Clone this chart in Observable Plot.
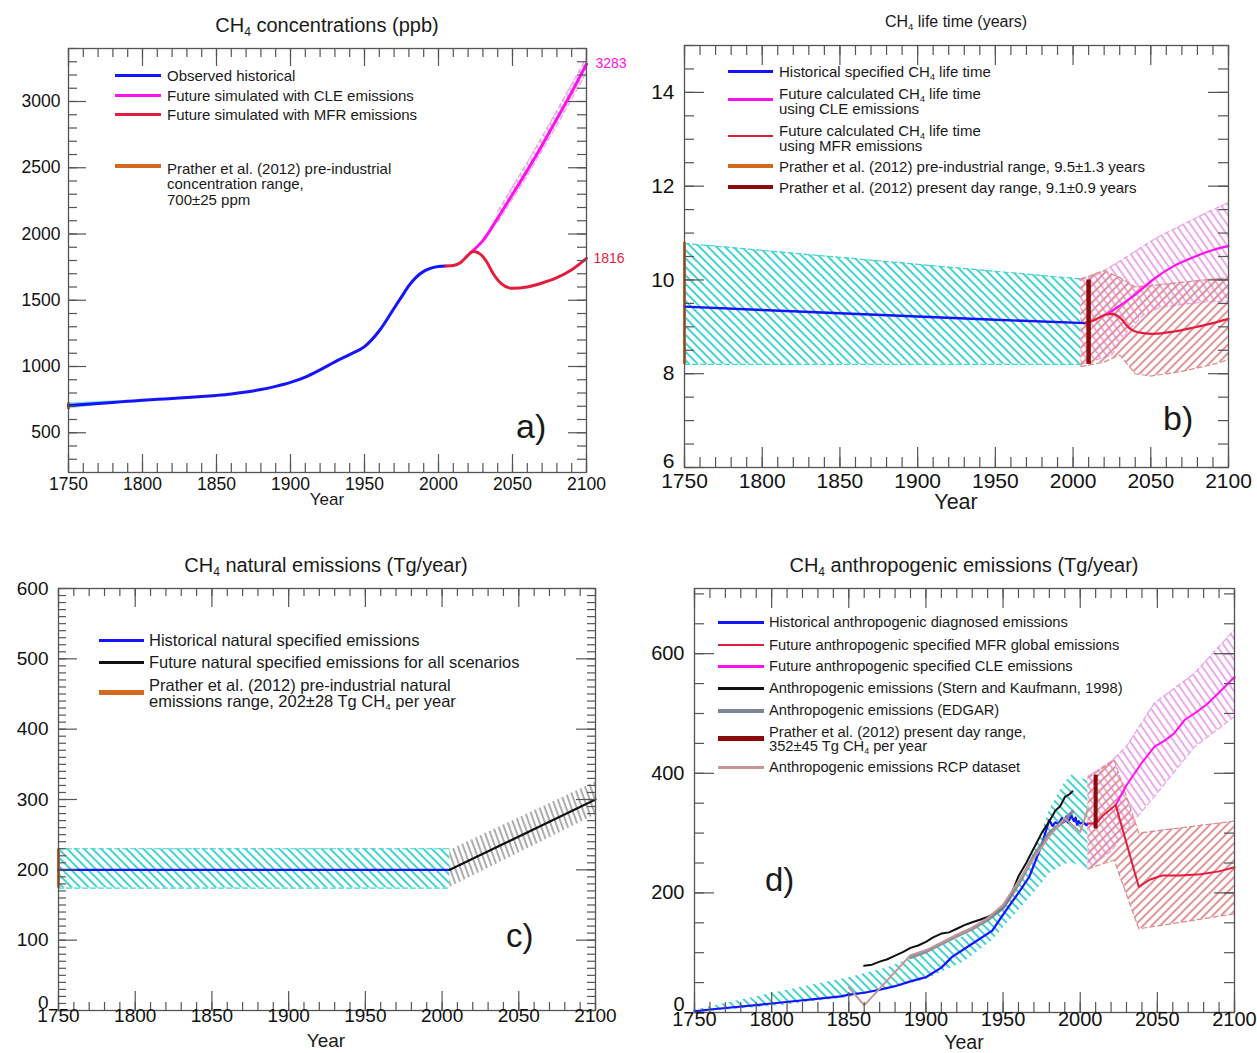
<!DOCTYPE html>
<html><head><meta charset="utf-8">
<script src="https://cdn.jsdelivr.net/npm/d3@7"></script>
<script src="https://cdn.jsdelivr.net/npm/@observablehq/plot@0.6"></script>
<style>
body{margin:0;background:#fff;font-family:"Liberation Sans",Arial,Helvetica,sans-serif;}
#root{position:relative;width:1257px;height:1053px;overflow:hidden;background:#fff;}
.t{position:absolute;white-space:nowrap;color:#1a1a1a;line-height:1.15;}
.t sub{font-size:0.6em;vertical-align:-0.3em;line-height:0;}
</style></head><body>
<svg width="0" height="0" style="position:absolute"><defs>
<pattern id="hCyan" patternUnits="userSpaceOnUse" width="6" height="6" patternTransform="rotate(-45)"><line x1="2" y1="-1" x2="2" y2="7" stroke="#45d3cf" stroke-width="2"/></pattern>
<pattern id="hPink" patternUnits="userSpaceOnUse" width="6" height="6" patternTransform="rotate(-35)"><line x1="2" y1="-1" x2="2" y2="7" stroke="#e9a3ea" stroke-width="1.8"/></pattern>
<pattern id="hRed" patternUnits="userSpaceOnUse" width="6" height="6" patternTransform="rotate(45)"><line x1="2" y1="-1" x2="2" y2="7" stroke="#de8a8c" stroke-width="1.8"/></pattern>
<pattern id="hGray" patternUnits="userSpaceOnUse" width="5" height="5" patternTransform="rotate(-20)"><line x1="2" y1="-1" x2="2" y2="6" stroke="#a4a4a4" stroke-width="1.8"/></pattern>
</defs></svg>
<div id="root"></div>
<script>
// ================= DATA =================
// Panel a: CH4 concentrations (ppb)
const aHistYears = [1750,1760,1770,1780,1790,1800,1810,1820,1830,1840,1850,1860,1870,1880,1890,1900,1910,1920,1930,1940,1950,1960,1970,1975,1980,1985,1990,1995,2000,2005];
const aHistConc  = [705,713,721,729,737,745,752,759,766,773,782,793,808,826,850,880,920,975,1035,1090,1150,1270,1440,1525,1610,1675,1718,1743,1755,1758];
const aMfrYears  = [2005,2010,2015,2020,2023,2027,2032,2037,2042,2050,2060,2070,2080,2090,2100];
const aMfrConc   = [1758,1762,1785,1840,1868,1858,1800,1700,1630,1590,1600,1630,1670,1730,1816];
const aCleYears  = [2022,2030,2040,2050,2060,2070,2080,2090,2100];
const aCleConc   = [1862,1950,2120,2300,2480,2670,2870,3070,3283];
const aCleBandYears = [2040,2060,2080,2100];
const aCleBandLo    = [2090,2440,2820,3220];
const aCleBandHi    = [2170,2540,2930,3330];
const aHistBandYears = [1750,1770,1790];
const aHistBandLo    = [680,705,730];
const aHistBandHi    = [725,735,745];
const aPreYear = [1750], aPreLo = [675], aPreHi = [725];

// Panel b: CH4 life time (years)
const bHistYears = [1750,1800,1850,1900,1950,2008];
const bHistLife  = [9.43,9.36,9.29,9.22,9.15,9.08];
const bHistBandYears = [1750,2005];
const bHistBandLo    = [8.2,8.2];
const bHistBandHi    = [10.78,10.02];
const bMfrYears = [2008,2012,2017,2022,2026,2030,2036,2044,2052,2065,2077,2090,2100];
const bMfrLife  = [9.09,9.12,9.2,9.27,9.27,9.2,8.98,8.87,8.85,8.9,8.98,9.08,9.17];
const bCleYears = [2022,2030,2039,2052,2065,2077,2090,2100];
const bCleLife  = [9.27,9.45,9.66,10.02,10.3,10.48,10.64,10.72];
const bCleBandYears = [2005,2015,2025,2035,2045,2055,2070,2085,2100];
const bCleBandHi    = [10.0,10.1,10.3,10.5,10.72,10.92,11.17,11.42,11.65];
const bCleBandLo    = [8.2,8.3,8.4,8.9,9.25,9.4,9.48,9.53,9.55];
const bMfrBandYears = [2005,2020,2030,2040,2050,2070,2090,2100];
const bMfrBandHi    = [10.02,10.2,10.05,9.85,9.88,9.95,10.02,10.05];
const bMfrBandLo    = [8.15,8.25,8.4,8.0,7.95,8.05,8.2,8.3];
const bPreYear = [1750], bPreLo = [8.2], bPreHi = [10.8];
const bNowYear = [2010], bNowLo = [8.2], bNowHi = [10.0];

// Panel c: CH4 natural emissions (Tg/year)
const cHistYears = [1750,2005];
const cHistEmis  = [200,200];
const cHistBandLo = [174,174], cHistBandHi = [230,230];
const cFutYears = [2005,2100];
const cFutEmis  = [200,300];
const cFutBandLo = [175,278], cFutBandHi = [228,325];
const cPreYear = [1750], cPreLo = [174], cPreHi = [230];

// Panel d: CH4 anthropogenic emissions (Tg/year)
const dHistYears = [1750,1760,1800,1845,1850,1860,1870,1880,1890,1897,1900,1910,1917,1930,1943,1949,1955,1960,1967,1975,1980,1982,1984,1986,1988,1989,1990,1991,1992,1993,1994,1995,1996,1997,1998,1999,2000,2002,2004,2005];
const dHistEmis  = [2,5,15,27,30,33,38,44,52,57,59,75,93,115,137,160,182,200,227,280,322,312,318,315,325,318,320,328,318,322,332,325,320,326,314,320,316,318,313,316];
const dSternYears = [1860,1865,1870,1875,1880,1885,1890,1895,1900,1905,1910,1915,1920,1925,1930,1935,1940,1945,1950,1955,1960,1965,1970,1975,1980,1984,1987,1990,1993,1995];
const dSternEmis  = [78,80,85,89,95,101,108,112,118,126,132,134,140,146,151,155,160,166,175,195,228,250,275,300,320,338,345,360,365,370];
const dEdgarYears = [1890,1900,1910,1920,1930,1940,1950,1960,1970,1980,1990,1995];
const dEdgarEmis  = [92,102,115,128,140,155,175,215,262,300,322,336];
const dRcpYears = [1850,1860,1890,1900,1910,1920,1930,1940,1950,1960,1970,1980,1990,2000,2005];
const dRcpEmis  = [42,12,96,104,117,130,142,158,180,220,258,295,325,302,340];
const dMfrYears = [2005,2010,2015,2023,2038,2045,2053,2065,2078,2090,2100];
const dMfrEmis  = [316,316,330,347,210,222,229,229,231,236,243];
const dCleYears = [2023,2030,2040,2048,2055,2061,2068,2074,2082,2090,2100];
const dCleEmis  = [347,380,418,444,455,467,490,500,515,535,561];
const dHistBandYears = [1750,1800,1850,1875,1900,1925,1943,1962,1975,1980,1990,1995,2000,2005];
const dHistBandHi    = [4,32,58,75,100,128,160,216,300,338,385,398,392,388];
const dHistBandLo    = [0,10,25,38,55,85,120,176,215,232,248,250,245,240];
const dCleBandYears = [2005,2020,2030,2048,2074,2100];
const dCleBandHi    = [395,420,445,517,567,640];
const dCleBandLo    = [240,270,305,361,444,495];
const dMfrBandYears = [2005,2022,2038,2100];
const dMfrBandHi    = [392,422,300,320];
const dMfrBandLo    = [240,255,140,165];
const dNowYear = [2010], dNowLo = [307], dNowHi = [397];

// ================= HELPERS =================
const FONT = '"Liberation Sans", Arial, Helvetica, sans-serif';
const BLUE = "#1414ff", MAGENTA = "#ff10f0", CRIMSON = "#e41d3e", ORANGE = "#d2691e",
      DARKRED = "#8b0a0a", CYAN = "#45d3cf", PINK = "#e9a3ea", LRED = "#de8a8c", GRAYH = "#a4a4a4",
      EDGAR = "#7d8794", RCP = "#c49696";
const root = document.getElementById("root");

function rows(xs, cols) {
  return xs.map((x, i) => { const o = {x}; for (const k in cols) o[k] = cols[k][i]; return o; });
}
function boxTicks(iw, ih, xMaj, xMin, yMaj, yMin, lMaj, lMin) {
  const s = {stroke: "#555", strokeWidth: 1.2};
  return [
    Plot.tickX(xMin, {x: d => d, insetTop: ih - lMin, ...s}),
    Plot.tickX(xMin, {x: d => d, insetBottom: ih - lMin, ...s}),
    Plot.tickX(xMaj, {x: d => d, insetTop: ih - lMaj, ...s}),
    Plot.tickX(xMaj, {x: d => d, insetBottom: ih - lMaj, ...s}),
    Plot.tickY(yMin, {y: d => d, insetRight: iw - lMin, ...s}),
    Plot.tickY(yMin, {y: d => d, insetLeft: iw - lMin, ...s}),
    Plot.tickY(yMaj, {y: d => d, insetRight: iw - lMaj, ...s}),
    Plot.tickY(yMaj, {y: d => d, insetLeft: iw - lMaj, ...s})
  ];
}
function band(data, pat, edge) {
  const m = [Plot.areaY(data, {x: "x", y1: "lo", y2: "hi", fill: pat})];
  if (edge) {
    m.push(Plot.lineY(data, {x: "x", y: "lo", stroke: edge, strokeWidth: 1.2, strokeDasharray: "5,3"}));
    m.push(Plot.lineY(data, {x: "x", y: "hi", stroke: edge, strokeWidth: 1.2, strokeDasharray: "5,3"}));
  }
  return m;
}
function panel(p) {
  const yAxisMarks = p.lowDy
    ? [Plot.axisY({ticks: p.yMaj.slice(1), tickSize: 0, tickPadding: p.yPad, fontSize: p.fs, tickFormat: d => String(d), label: null}),
       Plot.axisY({ticks: p.yMaj.slice(0, 1), tickSize: 0, tickPadding: p.yPad, fontSize: p.fs, tickFormat: d => String(d), label: null, dy: p.lowDy})]
    : [Plot.axisY({ticks: p.yMaj, tickSize: 0, tickPadding: p.yPad, fontSize: p.fs, tickFormat: d => String(d), label: null})];
  const svg = Plot.plot({
    width: p.width, height: p.height,
    marginLeft: p.ml, marginRight: p.mr, marginTop: p.mt, marginBottom: p.mb,
    x: {domain: [1750, 2100]}, y: {domain: p.yDomain},
    style: {fontFamily: FONT, background: "transparent", color: "#111", overflow: "visible"},
    marks: [
      ...p.marks,
      Plot.frame({stroke: "#555", strokeWidth: 1.3}),
      ...boxTicks(p.width - p.ml - p.mr, p.height - p.mt - p.mb, p.xMaj, p.xMin, p.yMaj, p.yMin, p.lMaj, p.lMin),
      Plot.axisX({ticks: p.xMaj, tickSize: 0, tickPadding: p.xPad, fontSize: p.fs, tickFormat: d => String(d), label: null}),
      ...yAxisMarks
    ]
  });
  svg.style.position = "absolute";
  svg.style.left = p.left + "px";
  svg.style.top = p.top + "px";
  root.appendChild(svg);
}
function txt(x, y, html, size, anchor = "start", color = "#1a1a1a") {
  const d = document.createElement("div");
  d.className = "t";
  d.innerHTML = html;
  d.style.left = x + "px";
  d.style.top = (y - 0.56 * size) + "px";
  d.style.fontSize = size + "px";
  d.style.color = color;
  if (anchor === "middle") d.style.transform = "translateX(-50%)";
  root.appendChild(d);
}
function sw(x1, x2, y, color, h) {
  const d = document.createElement("div");
  d.style.cssText = `position:absolute;left:${x1}px;top:${y - h / 2}px;width:${x2 - x1}px;height:${h}px;background:${color}`;
  root.appendChild(d);
}
const rng = (a, b, s) => d3.range(a, b + s / 2, s);
const xMaj = rng(1750, 2100, 50), xMin = rng(1750, 2100, 10);

// ================= PANEL A =================
const aHist = rows(aHistYears, {v: aHistConc});
const aMfr = rows(aMfrYears, {v: aMfrConc});
const aCle = rows(aCleYears, {v: aCleConc});
panel({
  left: 0, top: 0, width: 628, height: 520, ml: 68, mr: 42, mt: 48, mb: 48,
  yDomain: [200, 3400], xMaj, xMin, yMaj: rng(500, 3000, 500), yMin: rng(300, 3400, 100),
  lMaj: 18, lMin: 9, fs: 17.5, xPad: 5, yPad: 8,
  marks: [
    Plot.areaY(rows(aHistBandYears, {lo: aHistBandLo, hi: aHistBandHi}), {x: "x", y1: "lo", y2: "hi", fill: CYAN, fillOpacity: 0.7}),
    ...band(rows(aCleBandYears, {lo: aCleBandLo, hi: aCleBandHi}), "url(#hPink)", PINK),
    Plot.ruleX(rows(aPreYear, {lo: aPreLo, hi: aPreHi}), {x: "x", y1: "lo", y2: "hi", stroke: ORANGE, strokeWidth: 3}),
    Plot.lineY(aHist, {x: "x", y: "v", stroke: BLUE, strokeWidth: 3, curve: "monotone-x"}),
    Plot.lineY(aCle, {x: "x", y: "v", stroke: MAGENTA, strokeWidth: 3, curve: "monotone-x"}),
    Plot.lineY(aMfr, {x: "x", y: "v", stroke: CRIMSON, strokeWidth: 3, curve: "monotone-x"}),
    Plot.text(aCle.slice(-1), {x: "x", y: "v", text: d => String(d.v), dx: 9, textAnchor: "start", fill: MAGENTA, fontSize: 14}),
    Plot.text(aMfr.slice(-1), {x: "x", y: "v", text: d => String(d.v), dx: 7, textAnchor: "start", fill: CRIMSON, fontSize: 14})
  ]
});
txt(327, 25, "CH<sub>4</sub> concentrations (ppb)", 20, "middle");
txt(327, 500, "Year", 17, "middle");
txt(516, 426, "a)", 34);
sw(115, 161, 75, BLUE, 3);    txt(167, 75, "Observed historical", 15);
sw(115, 161, 95, MAGENTA, 3); txt(167, 95, "Future simulated with CLE emissions", 15);
sw(115, 161, 114, CRIMSON, 3); txt(167, 114, "Future simulated with MFR emissions", 15);
sw(115, 161, 166, ORANGE, 4.5);
txt(167, 168, "Prather et al. (2012) pre-industrial", 15);
txt(167, 183.5, "concentration range,", 15);
txt(167, 199, "700±25 ppm", 15);

// ================= PANEL B =================
panel({
  left: 628, top: 0, width: 629, height: 520, ml: 56, mr: 29, mt: 45, mb: 53,
  yDomain: [6, 15], xMaj, xMin, yMaj: rng(6, 14, 2), yMin: rng(6, 15, 0.5),
  lMaj: 20, lMin: 10, fs: 21, xPad: 6, yPad: 10, lowDy: -6,
  marks: [
    ...band(rows(bHistBandYears, {lo: bHistBandLo, hi: bHistBandHi}), "url(#hCyan)", CYAN),
    ...band(rows(bCleBandYears, {lo: bCleBandLo, hi: bCleBandHi}), "url(#hPink)", PINK),
    ...band(rows(bMfrBandYears, {lo: bMfrBandLo, hi: bMfrBandHi}), "url(#hRed)", LRED),
    Plot.ruleX(rows(bPreYear, {lo: bPreLo, hi: bPreHi}), {x: "x", y1: "lo", y2: "hi", stroke: ORANGE, strokeWidth: 3}),
    Plot.lineY(rows(bHistYears, {v: bHistLife}), {x: "x", y: "v", stroke: BLUE, strokeWidth: 2.4}),
    Plot.lineY(rows(bCleYears, {v: bCleLife}), {x: "x", y: "v", stroke: MAGENTA, strokeWidth: 2.2, curve: "monotone-x"}),
    Plot.lineY(rows(bMfrYears, {v: bMfrLife}), {x: "x", y: "v", stroke: CRIMSON, strokeWidth: 2.2, curve: "monotone-x"}),
    Plot.ruleX(rows(bNowYear, {lo: bNowLo, hi: bNowHi}), {x: "x", y1: "lo", y2: "hi", stroke: DARKRED, strokeWidth: 4.5})
  ]
});
txt(956, 22, "CH<sub>4</sub> life time (years)", 16, "middle");
txt(956, 502, "Year", 21.5, "middle");
txt(1163, 418, "b)", 34);
sw(728, 773, 71.5, BLUE, 3);   txt(779, 71.5, "Historical specified CH<sub>4</sub> life time", 15);
sw(728, 773, 99.5, MAGENTA, 2.5);
txt(779, 93, "Future calculated CH<sub>4</sub> life time", 15);
txt(779, 108, "using CLE emissions", 15);
sw(728, 773, 136, CRIMSON, 2.5);
txt(779, 130, "Future calculated CH<sub>4</sub> life time", 15);
txt(779, 145, "using MFR emissions", 15);
sw(728, 773, 166, ORANGE, 4.5); txt(779, 166, "Prather et al. (2012) pre-industrial range, 9.5±1.3 years", 15);
sw(728, 773, 187, DARKRED, 4.5); txt(779, 187, "Prather et al. (2012) present day range, 9.1±0.9 years", 15);

// ================= PANEL C =================
panel({
  left: 0, top: 530, width: 628, height: 523, ml: 58, mr: 33, mt: 58, mb: 43,
  yDomain: [0, 600], xMaj, xMin, yMaj: rng(0, 600, 100), yMin: rng(0, 600, 10),
  lMaj: 19, lMin: 8, fs: 19, xPad: -2, yPad: 10, lowDy: -8,
  marks: [
    ...band(rows(cHistYears, {lo: cHistBandLo, hi: cHistBandHi}), "url(#hCyan)", CYAN),
    ...band(rows(cFutYears, {lo: cFutBandLo, hi: cFutBandHi}), "url(#hGray)", null),
    Plot.ruleX(rows(cPreYear, {lo: cPreLo, hi: cPreHi}), {x: "x", y1: "lo", y2: "hi", stroke: ORANGE, strokeWidth: 3}),
    Plot.lineY(rows(cHistYears, {v: cHistEmis}), {x: "x", y: "v", stroke: BLUE, strokeWidth: 2.2}),
    Plot.lineY(rows(cFutYears, {v: cFutEmis}), {x: "x", y: "v", stroke: "#111", strokeWidth: 2.2})
  ]
});
txt(326, 565, "CH<sub>4</sub> natural emissions (Tg/year)", 20, "middle");
txt(326, 1041, "Year", 19, "middle");
txt(506, 935, "c)", 33);
sw(99, 144, 640, BLUE, 3);   txt(149, 640, "Historical natural specified emissions", 16.5);
sw(99, 144, 662.5, "#111", 3); txt(149, 662.5, "Future natural specified emissions for all scenarios", 16.5);
sw(99, 144, 692.5, ORANGE, 4.5);
txt(149, 685, "Prather et al. (2012) pre-industrial natural", 16.5);
txt(149, 701, "emissions range, 202±28 Tg CH<sub>4</sub> per year", 16.5);

// ================= PANEL D =================
panel({
  left: 628, top: 530, width: 629, height: 523, ml: 66, mr: 23, mt: 58, mb: 41,
  yDomain: [0, 709], xMaj, xMin, yMaj: rng(0, 600, 200), yMin: rng(0, 700, 50),
  lMaj: 20, lMin: 10, fs: 20, xPad: -1, yPad: 10, lowDy: -8,
  marks: [
    ...band(rows(dHistBandYears, {lo: dHistBandLo, hi: dHistBandHi}), "url(#hCyan)", null),
    ...band(rows(dCleBandYears, {lo: dCleBandLo, hi: dCleBandHi}), "url(#hPink)", PINK),
    ...band(rows(dMfrBandYears, {lo: dMfrBandLo, hi: dMfrBandHi}), "url(#hRed)", LRED),
    Plot.lineY(rows(dHistYears, {v: dHistEmis}), {x: "x", y: "v", stroke: BLUE, strokeWidth: 2.2}),
    Plot.lineY(rows(dSternYears, {v: dSternEmis}), {x: "x", y: "v", stroke: "#111", strokeWidth: 2}),
    Plot.lineY(rows(dEdgarYears, {v: dEdgarEmis}), {x: "x", y: "v", stroke: EDGAR, strokeWidth: 3.5, strokeOpacity: 0.9}),
    Plot.lineY(rows(dRcpYears, {v: dRcpEmis}), {x: "x", y: "v", stroke: RCP, strokeWidth: 2}),
    Plot.lineY(rows(dCleYears, {v: dCleEmis}), {x: "x", y: "v", stroke: MAGENTA, strokeWidth: 2}),
    Plot.lineY(rows(dMfrYears, {v: dMfrEmis}), {x: "x", y: "v", stroke: CRIMSON, strokeWidth: 2}),
    Plot.ruleX(rows(dNowYear, {lo: dNowLo, hi: dNowHi}), {x: "x", y1: "lo", y2: "hi", stroke: DARKRED, strokeWidth: 4})
  ]
});
txt(964, 565, "CH<sub>4</sub> anthropogenic emissions (Tg/year)", 20, "middle");
txt(964, 1042, "Year", 19.5, "middle");
txt(765, 879, "d)", 33);
sw(718, 764, 622.5, BLUE, 3);   txt(769, 622.5, "Historical anthropogenic diagnosed emissions", 14.7);
sw(718, 764, 645, CRIMSON, 2.5); txt(769, 645, "Future anthropogenic specified MFR global emissions", 14.7);
sw(718, 764, 666.5, MAGENTA, 3); txt(769, 666.5, "Future anthropogenic specified CLE emissions", 14.7);
sw(718, 764, 688.5, "#111", 3);  txt(769, 688.5, "Anthropogenic emissions (Stern and Kaufmann, 1998)", 14.7);
sw(718, 764, 710.5, EDGAR, 4);   txt(769, 710.5, "Anthropogenic emissions (EDGAR)", 14.7);
sw(718, 764, 738.5, DARKRED, 4.5);
txt(769, 732, "Prather et al. (2012) present day range,", 14.7);
txt(769, 746, "352±45 Tg CH<sub>4</sub> per year", 14.7);
sw(718, 764, 767.5, RCP, 2.5);   txt(769, 767.5, "Anthropogenic emissions RCP dataset", 14.7);
</script>
</body></html>
